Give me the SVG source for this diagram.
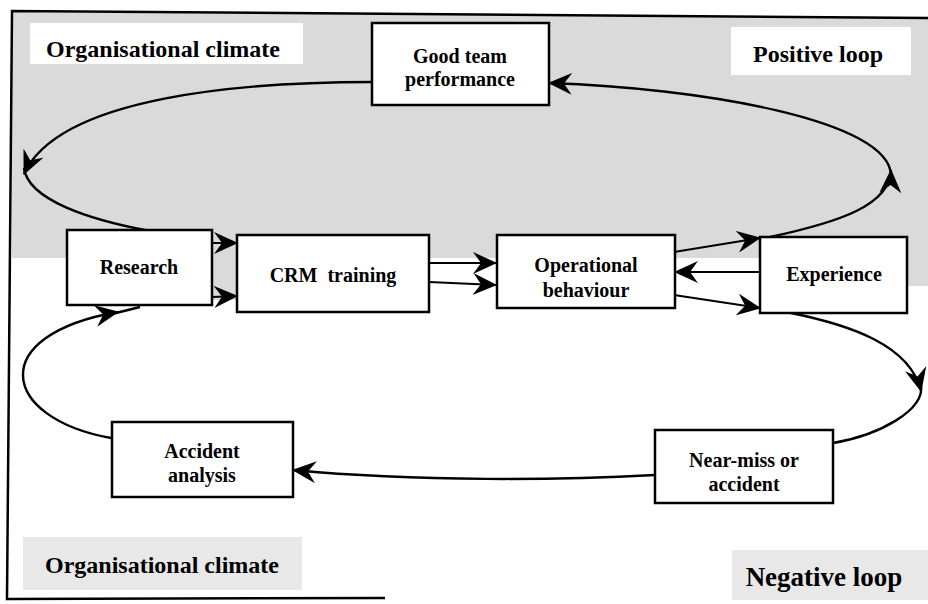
<svg xmlns="http://www.w3.org/2000/svg" width="928" height="604" viewBox="0 0 928 604">
<style>
.bg{fill:#ffffff}
.shade{fill:#dadada}
.lshade{fill:#e8e8e8}
.frame{fill:none;stroke:#000;stroke-width:2.5}
.box{fill:#fff;stroke:#000;stroke-width:2.5}
.lbl{fill:#fff;stroke:none}
.t{font-family:'Liberation Serif','Times New Roman',serif;font-weight:700;fill:#000;text-anchor:middle}
.n{font-size:20px}
.big{font-size:24px}
.neg{font-size:27px}
.c{fill:none;stroke:#000;stroke-width:2.4}
.s{fill:none;stroke:#000;stroke-width:2}
</style>
<defs>
<marker id="ah" viewBox="0 0 24 22" markerWidth="24" markerHeight="22" refX="23" refY="11" orient="auto" markerUnits="userSpaceOnUse">
<path d="M0,0 L24,11 L0,22 L8,11 Z" fill="#000"/>
</marker>
</defs>
<rect class="bg" x="0" y="0" width="928" height="604"/>
<g id="background">
<polygon class="shade" points="12,12 928,18 928,286 907,286 907,258 12,258"/>
<polygon class="shade" points="212,235 237,235 237,300 212,300"/>
<path class="frame" d="M928,18 L12,11 L7,599 L385,598"/>
</g>
<g id="label-org-top">
<rect class="lbl" x="30" y="23" width="273" height="41"/>
<text class="t big" x="163" y="57">Organisational climate</text>
</g>
<g id="label-positive">
<rect class="lbl" x="731" y="27" width="180" height="48"/>
<text class="t big" x="818" y="62">Positive loop</text>
</g>
<g id="label-org-bottom">
<rect class="lshade" x="23" y="537" width="279" height="53"/>
<text class="t big" x="162" y="573">Organisational climate</text>
</g>
<g id="label-negative">
<rect class="lshade" x="732" y="550" width="196" height="50"/>
<text class="t neg" x="824" y="586">Negative loop</text>
</g>
<g id="connectors">
<path class="c" d="M372,82 C250,82 60,95 24,174" marker-end="url(#ah)"/>
<path class="c" d="M24,168 C28,200 90,220 150,231"/>
<path class="c" d="M770,237 C840,222 890,205 891,170" marker-end="url(#ah)"/>
<path class="c" d="M891,176 C891,120 700,88 549,83" marker-end="url(#ah)"/>
<path class="c" d="M791,313 C850,325 910,345 921,391" marker-end="url(#ah)"/>
<path class="c" d="M921,385 C925,410 880,435 833,443"/>
<path class="c" d="M655,475 C560,480 420,482 293,470" marker-end="url(#ah)"/>
<path class="c" d="M111,438 C0,418 -15,335 118,312" marker-end="url(#ah)"/>
<path class="c" d="M112,314 L140,307"/>
<path class="s" d="M212,243 L237,243" marker-end="url(#ah)"/>
<path class="s" d="M212,297 L237,296" marker-end="url(#ah)"/>
<path class="s" d="M429,263 L496,263" marker-end="url(#ah)"/>
<path class="s" d="M429,282 L496,285" marker-end="url(#ah)"/>
<path class="s" d="M674,252 L760,238" marker-end="url(#ah)"/>
<path class="s" d="M760,272 L675,272" marker-end="url(#ah)"/>
<path class="s" d="M674,295 L760,308" marker-end="url(#ah)"/>
</g>
<g id="node-good-team">
<rect class="box" x="372" y="23" width="177" height="82"/>
<text class="t n" x="460" y="63">Good team</text>
<text class="t n" x="460" y="86">performance</text>
</g>
<g id="node-research">
<rect class="box" x="67" y="230" width="145" height="75"/>
<text class="t n" x="139" y="274">Research</text>
</g>
<g id="node-crm">
<rect class="box" x="237" y="235" width="192" height="77"/>
<text class="t n" x="333" y="282" xml:space="preserve">CRM  training</text>
</g>
<g id="node-operational">
<rect class="box" x="497" y="235" width="178" height="73"/>
<text class="t n" x="586" y="272">Operational</text>
<text class="t n" x="586" y="297">behaviour</text>
</g>
<g id="node-experience">
<rect class="box" x="760" y="237" width="147" height="76"/>
<text class="t n" x="834" y="281">Experience</text>
</g>
<g id="node-near-miss">
<rect class="box" x="655" y="430" width="178" height="73"/>
<text class="t n" x="744" y="467">Near-miss or</text>
<text class="t n" x="744" y="491">accident</text>
</g>
<g id="node-accident">
<rect class="box" x="112" y="422" width="181" height="75"/>
<text class="t n" x="202" y="458">Accident</text>
<text class="t n" x="202" y="482">analysis</text>
</g>
</svg>
